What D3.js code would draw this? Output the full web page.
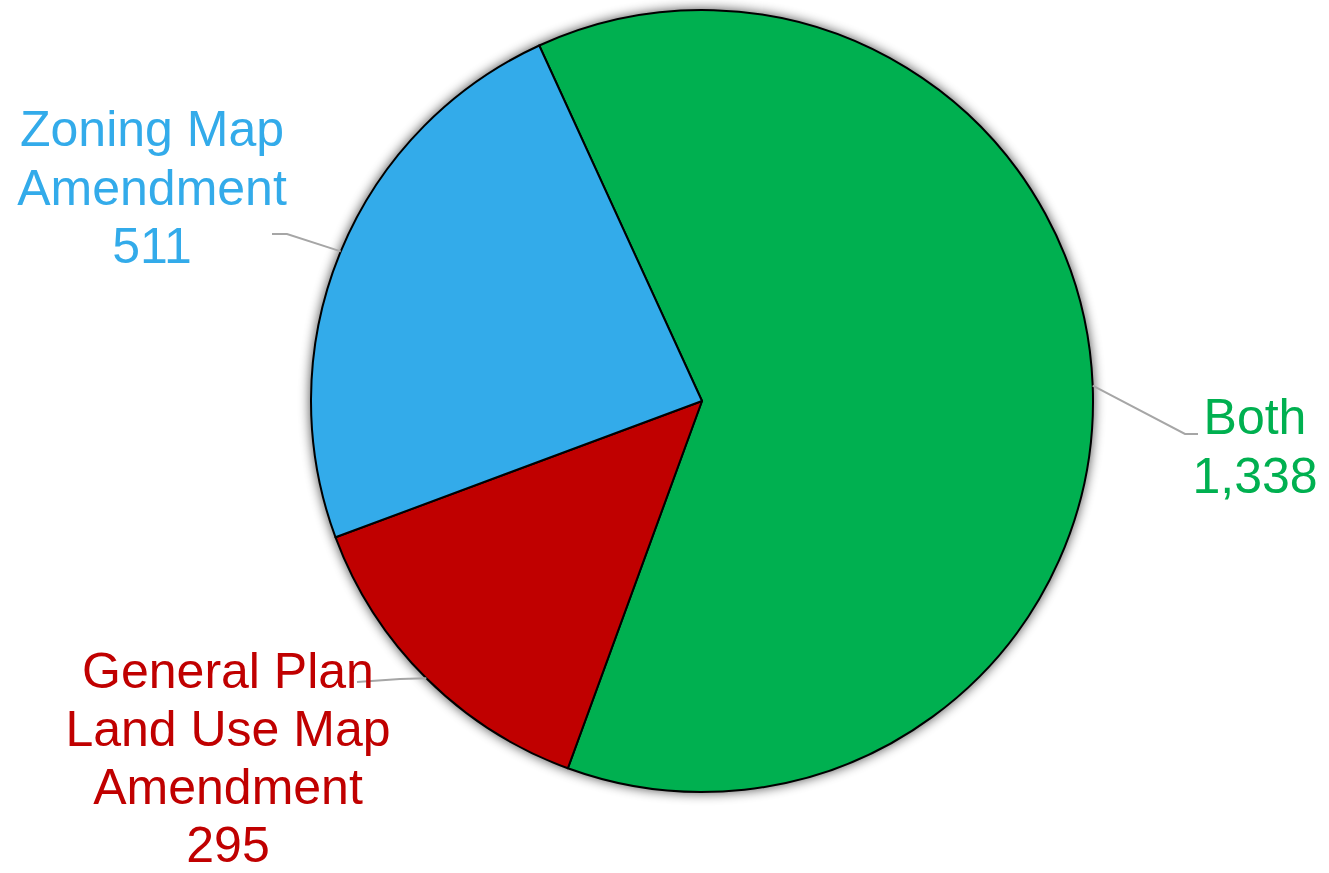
<!DOCTYPE html>
<html>
<head>
<meta charset="utf-8">
<script src="https://cdn.jsdelivr.net/npm/d3@7"></script>
<style>
  body { margin: 0; background: #fff; }
  text { font-family: "Liberation Sans", Arial, sans-serif; }
</style>
</head>
<body>
<div id="chart"></div>
<script>
// slice data, in drawing order (clockwise)
var categories = ['Both', 'General Plan Land Use Map Amendment', 'Zoning Map Amendment'];
var values = [1338, 295, 511];
var labelLines = [['Both', '1,338'], ['General Plan', 'Land Use Map', 'Amendment', '295'], ['Zoning Map', 'Amendment', '511']];
var colors = ['#00B050', '#C00000', '#33ABEA'];

var width = 1329, height = 873;
var cx = 702, cy = 401, radius = 391;

var svg = d3.select('#chart').append('svg')
    .attr('width', width)
    .attr('height', height);

var defs = svg.append('defs');
var shadow = defs.append('filter').attr('id', 'shadow')
    .attr('x', '-10%').attr('y', '-10%').attr('width', '120%').attr('height', '120%');
shadow.append('feGaussianBlur').attr('in', 'SourceAlpha').attr('stdDeviation', 6);
shadow.append('feComponentTransfer').append('feFuncA').attr('type', 'linear').attr('slope', 0.7);

var pie = d3.pie().sort(null).value(d => d)
    .startAngle(-24.6 * Math.PI / 180)
    .endAngle(-24.6 * Math.PI / 180 + 2 * Math.PI);
var arcs = pie(values);
var arc = d3.arc().innerRadius(0).outerRadius(radius);

var g = svg.append('g').attr('transform', `translate(${cx},${cy})`);

g.append('circle').attr('r', radius + 1).attr('fill', '#000').attr('filter', 'url(#shadow)');

g.selectAll('path.slice')
    .data(arcs)
    .enter().append('path')
    .attr('class', 'slice')
    .attr('d', arc)
    .attr('fill', (d, i) => colors[i])
    .attr('stroke', '#000')
    .attr('stroke-width', 2)
    .attr('stroke-linejoin', 'round');

// label layout (positions relative to svg)
var labelPos = [
  { x: 1255, y: 434, elbow: [1185, 434], end: [1198, 434], lh: 58.5 },
  { x: 228, y: 688, elbow: [400, 679], end: [357, 682], lh: 58 },
  { x: 152, y: 146, elbow: [287, 234], end: [272, 234], lh: 58.5 }
];

arcs.forEach(function(d, i) {
  var mid = (d.startAngle + d.endAngle) / 2;
  var px = cx + radius * Math.sin(mid);
  var py = cy - radius * Math.cos(mid);
  var p = labelPos[i];
  svg.append('polyline')
      .attr('points', [[px, py], p.elbow, p.end].map(q => q.join(',')).join(' '))
      .attr('fill', 'none')
      .attr('stroke', '#A6A6A6')
      .attr('stroke-width', 2);

  var t = svg.append('text')
      .attr('text-anchor', 'middle')
      .attr('fill', colors[i])
      .style('font-size', '50px');
  labelLines[i].forEach(function(line, j) {
    t.append('tspan')
        .attr('x', p.x)
        .attr('y', p.y + j * p.lh)
        .text(line);
  });
});
</script>
</body>
</html>
